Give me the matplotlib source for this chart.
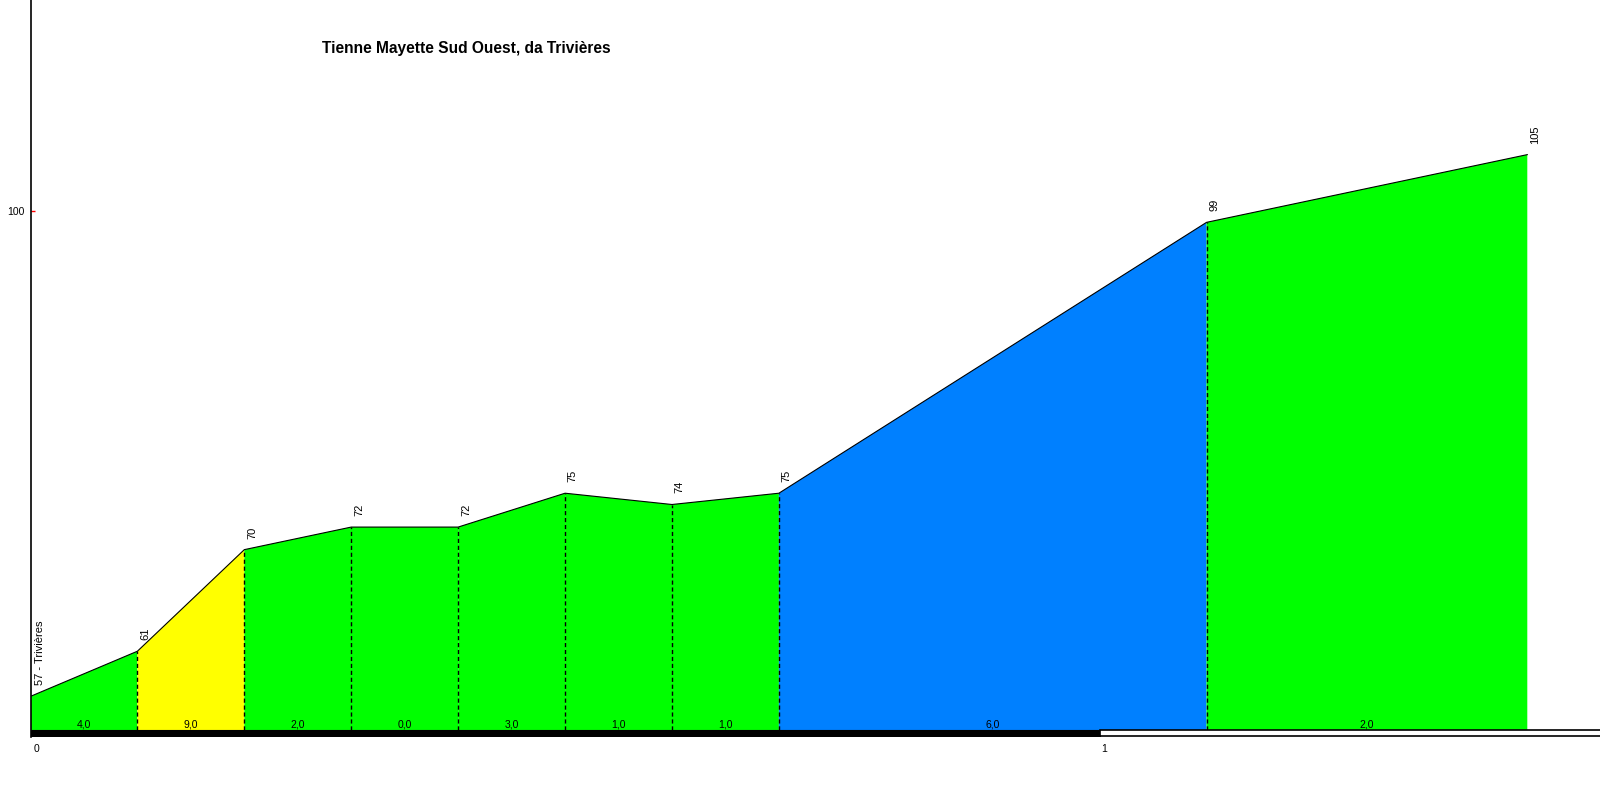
import matplotlib.pyplot as plt
from matplotlib.patches import Rectangle

plt.rcParams['font.family'] = ['Liberation Sans', 'DejaVu Sans']

# profile data
dist_km = [0.0, 0.1, 0.2, 0.3, 0.4, 0.5, 0.6, 0.7, 1.1, 1.4]
elev_m = [57, 61, 70, 72, 72, 75, 74, 75, 99, 105]
point_names = ['57 - Trivières', '61', '70', '72', '72', '75', '74', '75', '99', '105']
grade_labels = ['4,0', '9,0', '2,0', '0,0', '3,0', '1,0', '1,0', '6,0', '2,0']
seg_colors = ['#00ff00', '#ffff00', '#00ff00', '#00ff00', '#00ff00',
              '#00ff00', '#00ff00', '#0080ff', '#00ff00']
title = 'Tienne Mayette Sud Ouest, da Trivières'

base = 54
bar_h = 0.55
xmax = 1.468

fig = plt.figure(figsize=(16, 8), dpi=100)
ax = fig.add_axes([30.5 / 1600, 63 / 800, 1 - 30.5 / 1600, 737 / 800])
ax.set_xlim(0, xmax)
ax.set_ylim(base - bar_h - 0.05, 118.7)

# coloured segments
for i in range(len(dist_km) - 1):
    xs = [dist_km[i], dist_km[i + 1], dist_km[i + 1], dist_km[i]]
    ys = [elev_m[i], elev_m[i + 1], base, base]
    ax.fill(xs, ys, color=seg_colors[i], lw=0, zorder=1)
    xm = (dist_km[i] + dist_km[i + 1]) / 2
    ax.text(xm, base + 0.55, grade_labels[i], ha='center', va='center',
            fontsize=7.5, zorder=4)

ax.plot(dist_km, elev_m, color='black', lw=0.8, zorder=3)

# dashed separators
for x, y in zip(dist_km[1:-1], elev_m[1:-1]):
    ax.plot([x, x], [base, y], color='black', lw=1, ls=(0, (3, 2)), zorder=3)

# elevation labels
for i, (x, y, name) in enumerate(zip(dist_km, elev_m, point_names)):
    dx = 3.5 if i == 0 else 2
    ax.annotate(name, (x, y), xytext=(dx, 8), textcoords='offset points',
                rotation=90, ha='left', va='bottom', fontsize=8)

# km bar
ax.add_patch(Rectangle((0, base - bar_h), 1.0, bar_h, facecolor='black',
                       edgecolor='black', lw=0.8, zorder=5))
ax.add_patch(Rectangle((1.0, base - bar_h), xmax + 0.05 - 1.0, bar_h, facecolor='white',
                       edgecolor='black', lw=1.2, zorder=5))

ax.text(0.003, base - 1.7, '0', ha='left', va='center', fontsize=7.5)
ax.text(1.001, base - 1.7, '1', ha='left', va='center', fontsize=7.5)

for s in ['top', 'right', 'bottom']:
    ax.spines[s].set_visible(False)
ax.spines['left'].set_linewidth(1.2)
ax.set_xticks([])
ax.set_yticks([100])
ax.set_yticklabels(['100'], fontsize=7.5)
ax.tick_params(axis='y', direction='in', length=3, color='red', width=1, pad=4)

fig.text(322 / 1600, 1 - 48 / 800, title, ha='left', va='center',
         fontsize=11.2, fontweight='bold')

fig.savefig('out.png', dpi=100)
